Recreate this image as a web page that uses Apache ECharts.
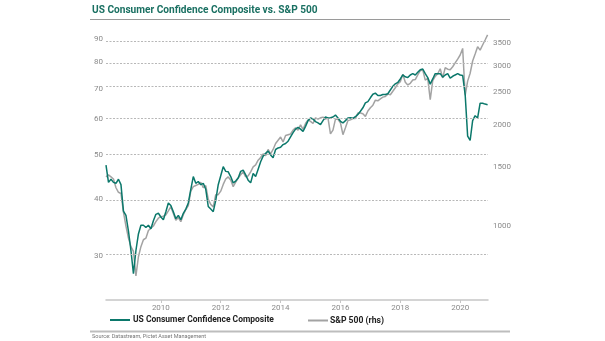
<!DOCTYPE html>
<html><head><meta charset="utf-8">
<script src="https://cdn.jsdelivr.net/npm/echarts@6/dist/echarts.min.js"></script>
<style>html,body{margin:0;padding:0;background:#fff}#c{width:605px;height:341px}</style>
</head><body><div id="c"></div>
<script>
// Monthly data, first point = March 2008
const startYear = 2008, startMonth = 3;
const seriesNames = ['US Consumer Confidence Composite', 'S&P 500 (rhs)'];
const ccValues = [
  47.5, 43.5, 44.2, 43.5, 43.3, 44.2, 43.0, 37.6, 36.8, 34.0,
  30.8, 27.4, 30.8, 33.5, 35.0, 35.0, 34.6, 35.0, 34.4, 35.8, 37.0, 37.2,
  36.5, 36.0, 37.5, 39.2, 38.7, 37.5, 36.2, 36.8, 36.0, 37.2, 38.0, 39.2,
  42.0, 44.8, 43.3, 43.7, 43.0, 43.3, 42.0, 38.5, 38.0, 37.5, 39.7, 43.0,
  45.0, 47.1, 46.0, 45.9, 44.8, 43.4, 43.8, 44.5, 46.0, 46.3, 45.2, 44.0,
  43.4, 45.5, 44.8, 46.5, 48.3, 49.7, 50.4, 51.0, 50.0, 49.3, 51.4, 51.8,
  52.0, 52.7, 53.0, 53.6, 54.8, 56.0, 57.0, 57.5, 57.0, 56.3, 57.8, 59.5,
  60.3, 60.0, 59.2, 58.8, 58.3, 59.5, 60.6, 60.3, 60.4, 60.6, 61.2, 60.3,
  59.3, 58.8, 59.5, 60.3, 60.4, 60.2, 60.7, 61.4, 62.4, 63.5, 65.1, 65.5,
  66.8, 68.0, 68.4, 67.6, 67.6, 67.9, 67.9, 68.2, 69.5, 70.8, 71.7, 72.2,
  73.5, 75.0, 74.3, 74.0, 75.0, 75.5, 75.0, 76.0, 77.0, 77.3, 75.5, 74.0,
  71.6, 73.5, 75.5, 75.5, 75.5, 74.2, 75.0, 75.5, 73.8, 74.5, 75.0, 75.5,
  75.0, 74.8, 68.0, 55.0, 53.8, 59.5, 61.0, 60.3, 65.0, 65.0, 64.7, 64.5
];
const spxValues = [
  1400, 1420, 1400, 1380, 1300, 1260, 1250, 1100, 1000, 920,
  868, 840, 710, 810, 868, 910, 920, 970, 985, 1000, 1030, 1055,
  1066, 1070, 1079, 1110, 1142, 1090, 1040, 1060, 1030, 1080, 1120, 1150,
  1270, 1310, 1320, 1330, 1350, 1300, 1320, 1200, 1160, 1140, 1240, 1240,
  1270, 1330, 1380, 1400, 1370, 1310, 1350, 1390, 1420, 1450, 1400, 1410,
  1450, 1500, 1520, 1570, 1600, 1640, 1620, 1690, 1640, 1690, 1760, 1800,
  1840, 1780, 1860, 1870, 1880, 1930, 1960, 1930, 2000, 1940, 2020, 2070,
  2050, 2020, 2100, 2080, 2100, 2110, 2080, 2100, 1880, 1930, 2080, 2080,
  2030, 1870, 1960, 2060, 2070, 2090, 2090, 2170, 2170, 2160, 2120, 2200,
  2250, 2290, 2370, 2360, 2390, 2420, 2430, 2470, 2460, 2520, 2580, 2650,
  2690, 2830, 2680, 2630, 2660, 2720, 2730, 2820, 2900, 2920, 2720, 2750,
  2380, 2710, 2790, 2840, 2940, 2760, 2960, 2930, 2920, 2980, 3060, 3140,
  3230, 3380, 2450, 2700, 2850, 3100, 3250, 3420, 3340, 3460, 3580, 3710
];
const xTickYears = [2010, 2012, 2014, 2016, 2018, 2020];
const leftTicks = [30, 40, 50, 60, 70, 80, 90];
const rightTicks = [1000, 1500, 2000, 2500, 3000, 3500];
const titleText = 'US Consumer Confidence Composite vs. S&P 500';
const sourceText = 'Source: Datastream, Pictet Asset Management';

const F = "Roboto, 'Liberation Sans', sans-serif";
const TEAL = '#0b786b', GRAY = '#a3a3a3';

// choose font size so rendered text width matches the reference width
const mctx = document.createElement('canvas').getContext('2d');
function fitSize(text, weight, target) {
  mctx.font = weight + ' 100px ' + F;
  return 100 * target / mctx.measureText(text).width;
}
const titleSize = fitSize(titleText, 'bold', 226);
const leg1Size = fitSize(seriesNames[0], 'bold', 141);
const leg2Size = fitSize(seriesNames[1], 'bold', 54);

function tOf(i) { return startYear + (startMonth - 1 + i) / 12; }
const ccData = ccValues.map((v, i) => [tOf(i), Math.log10(v)]);
const spxData = spxValues.map((v, i) => [tOf(i), Math.log10(v)]);

const chart = echarts.init(document.getElementById('c'), null, {renderer: 'canvas'});
chart.setOption({
  animation: false,
  backgroundColor: '#fff',
  title: {
    text: titleText,
    left: 92, top: 5, padding: 0,
    textStyle: {color: '#1a7062', fontSize: titleSize, fontWeight: 'bold', fontFamily: F}
  },
  legend: [
    {data: [seriesNames[0]], left: 110, top: 316, padding: 0, icon: 'rect', itemWidth: 20, itemHeight: 2,
     textStyle: {color: '#222', fontSize: leg1Size, fontWeight: 'bold', fontFamily: F, padding: [0, 0, 0, -2]}},
    {data: [seriesNames[1]], left: 308, top: 316, padding: 0, icon: 'rect', itemWidth: 20, itemHeight: 2,
     textStyle: {color: '#222', fontSize: leg2Size, fontWeight: 'bold', fontFamily: F, padding: [0, 0, 0, -3]}}
  ],
  grid: {left: 106, right: 117, top: 30, bottom: 41, containLabel: false},
  xAxis: {
    type: 'value', min: tOf(0), max: 2020.93,
    axisLine: {show: true, lineStyle: {color: '#c6c6c6', width: 1.5}},
    axisTick: {show: true, customValues: xTickYears, length: 3, lineStyle: {color: '#c6c6c6'}},
    axisLabel: {customValues: xTickYears, formatter: v => String(Math.round(v)),
      color: '#8a8a8a', fontSize: 8, margin: 4, fontFamily: F},
    splitLine: {show: false}
  },
  yAxis: [
    {
      type: 'value', position: 'left', min: 1.37956, max: 1.97406,
      axisLine: {show: false}, axisTick: {show: false}, splitLine: {show: false},
      axisLabel: {customValues: leftTicks.map(v => Math.log10(v)),
        formatter: v => String(Math.round(Math.pow(10, v))),
        color: '#8a8a8a', fontSize: 8, margin: 3, fontFamily: F}
    },
    {
      type: 'value', position: 'right', min: 2.77963, max: 3.58368,
      axisLine: {show: false}, axisTick: {show: false}, splitLine: {show: false},
      axisLabel: {customValues: rightTicks.map(v => Math.log10(v)),
        formatter: v => String(Math.round(Math.pow(10, v))),
        color: '#8a8a8a', fontSize: 8, margin: 5, fontFamily: F}
    }
  ],
  series: [
    {
      name: seriesNames[1], type: 'line', yAxisIndex: 1, data: spxData,
      showSymbol: false, symbol: 'none', z: 2,
      lineStyle: {color: GRAY, width: 1.5}, itemStyle: {color: GRAY}
    },
    {
      name: seriesNames[0], type: 'line', yAxisIndex: 0, data: ccData,
      showSymbol: false, symbol: 'none', z: 3,
      lineStyle: {color: TEAL, width: 1.5}, itemStyle: {color: TEAL},
      markLine: {
        silent: true, symbol: ['none', 'none'], label: {show: false}, animation: false,
        lineStyle: {color: '#b8b8b8', type: [2, 1.5], width: 1},
        data: leftTicks.map(v => ({yAxis: Math.log10(v)}))
      }
    }
  ],
  graphic: [
    {type: 'line', shape: {x1: 90, y1: 19.5, x2: 510, y2: 19.5}, style: {stroke: '#9a9a9a', lineWidth: 1}},
    {type: 'line', shape: {x1: 90, y1: 331.5, x2: 510, y2: 331.5}, style: {stroke: '#bdbdbd', lineWidth: 2}},
    {type: 'text', left: 92, top: 334, style: {text: sourceText, fill: '#777', fontSize: 5.5, fontFamily: F}}
  ]
});
</script></body></html>
